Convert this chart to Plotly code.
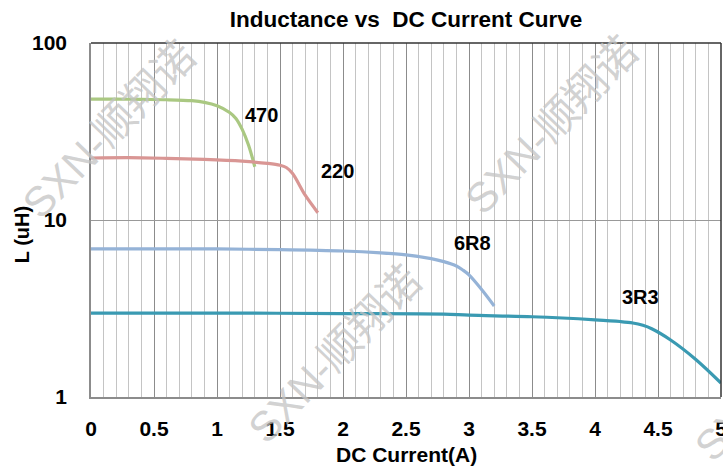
import math
import plotly.graph_objects as go

# ---- data ----
x_470 = [0, 0.2, 0.4, 0.6, 0.8, 0.9, 1.0, 1.1, 1.15, 1.2, 1.25, 1.3]
L_470 = [48.2, 48.2, 48.0, 47.8, 47.2, 46.2, 44.2, 40.5, 37.5, 32.5, 26.5, 20.0]

x_220 = [0, 0.3, 0.6, 0.9, 1.2, 1.4, 1.5, 1.55, 1.6, 1.7, 1.8]
L_220 = [22.4, 22.5, 22.3, 22.0, 21.5, 20.9, 20.4, 19.8, 18.3, 13.8, 11.0]

x_6r8 = [0, 0.5, 1.0, 1.5, 2.0, 2.3, 2.5, 2.7, 2.8, 2.9, 2.95, 3.0, 3.1, 3.2]
L_6r8 = [6.86, 6.86, 6.86, 6.8, 6.68, 6.52, 6.35, 6.05, 5.82, 5.5, 5.22, 4.9, 4.05, 3.27]

x_3r3 = [0, 1.0, 2.0, 2.8, 3.0, 3.5, 4.0, 4.2, 4.3, 4.38, 4.45, 4.6, 4.8, 5.0]
L_3r3 = [2.98, 2.98, 2.96, 2.94, 2.9, 2.84, 2.73, 2.67, 2.62, 2.54, 2.43, 2.1, 1.63, 1.2]

series_names = ["470", "220", "6R8", "3R3"]
series_x = [x_470, x_220, x_6r8, x_3r3]
series_y = [L_470, L_220, L_6r8, L_3r3]
series_colors = ["#AAC882", "#D99694", "#95B3D7", "#3A9AB2"]

label_x = [1.35, 1.96, 3.03, 4.36]
label_y = [39.2, 18.9, 7.41, 3.67]

x_ticks = [0, 0.5, 1, 1.5, 2, 2.5, 3, 3.5, 4, 4.5, 5]
x_ticktext = ["0", "0.5", "1", "1.5", "2", "2.5", "3", "3.5", "4", "4.5", "5"]
y_ticks = [1, 10, 100]
y_ticktext = ["1", "10", "100"]

title_text = "Inductance vs\u00a0 DC Current Curve"
x_title = "DC Current(A)"
y_title = "L (uH)"
watermark = "SXN-顺翔诺"
# watermark centres in paper coordinates
wm_x = [0.029, 0.73, 0.387, 1.095]
wm_y = [0.755, 0.768, 0.119, 0.07]

FONT = "Arial, Liberation Sans, sans-serif"

fig = go.Figure()
for name, xs, ys, col in zip(series_names, series_x, series_y, series_colors):
    fig.add_trace(go.Scatter(
        x=xs, y=ys, mode="lines", name=name,
        line=dict(color=col, width=3.2, shape="spline", smoothing=0.9),
        showlegend=False, hoverinfo="skip",
    ))

annotations = []
for name, lx, ly in zip(series_names, label_x, label_y):
    annotations.append(dict(
        x=lx, y=math.log10(ly), xref="x", yref="y", text="<b>%s</b>" % name,
        showarrow=False, xanchor="center", yanchor="middle",
        font=dict(family=FONT, size=20, color="black"),
    ))

for wx, wy in zip(wm_x, wm_y):
    annotations.append(dict(
        x=wx, y=wy, xref="paper", yref="paper", text=watermark,
        showarrow=False, textangle=-46, xanchor="center", yanchor="middle",
        font=dict(family="Liberation Sans, Noto Sans CJK SC, sans-serif", size=42,
                  color="rgba(195,195,195,0.75)"),
    ))

annotations.append(dict(
    x=-0.109, y=0.458, xref="paper", yref="paper", text="<b>%s</b>" % y_title,
    showarrow=False, textangle=-90, xanchor="center", yanchor="middle",
    font=dict(family=FONT, size=20, color="black"),
))
annotations.append(dict(
    x=0.5, y=-0.162, xref="paper", yref="paper", text="<b>%s</b>" % x_title,
    showarrow=False, xanchor="center", yanchor="middle",
    font=dict(family=FONT, size=21, color="black"),
))

fig.update_layout(
    width=723, height=466,
    margin=dict(l=91, r=2, t=43, b=69),
    paper_bgcolor="white", plot_bgcolor="white",
    title=dict(text="<b>%s</b>" % title_text, x=0.5, xref="paper",
               y=1 - 19 / 466, yref="container", yanchor="middle", xanchor="center",
               font=dict(family=FONT, size=22.5, color="black")),
    annotations=annotations,
    xaxis=dict(
        range=[0, 5], tickvals=x_ticks, ticktext=["<b>%s</b>" % t for t in x_ticktext],
        showgrid=True, gridcolor="#8C8C8C", gridwidth=1,
        minor=dict(dtick=0.1, showgrid=True, gridcolor="#C4C4C4", gridwidth=1),
        showline=True, linecolor="#8C8C8C", linewidth=1.5,
        ticks="", ticklabelstandoff=12, automargin=False,
        ticklabeloverflow="allow",
        tickfont=dict(family=FONT, size=21, color="black"), zeroline=False,
    ),
    yaxis=dict(
        type="log", range=[0, 2], tickvals=y_ticks,
        ticktext=["<b>%s</b>" % t for t in y_ticktext],
        showgrid=True, gridcolor="#999999", gridwidth=1,
        showline=True, linecolor="#8C8C8C", linewidth=1.5,
        ticks="", ticklabelstandoff=18, automargin=False,
        tickfont=dict(family=FONT, size=21, color="black"), zeroline=False,
    ),
    shapes=[
        dict(type="line", xref="paper", yref="paper", x0=0, x1=1, y0=1, y1=1,
             line=dict(color="#333333", width=1.5)),
        dict(type="line", xref="paper", yref="paper", x0=1, x1=1, y0=0, y1=1,
             line=dict(color="#333333", width=1.5)),
    ],
)

fig.write_html(
    "out.html",
    config={"displayModeBar": False},
    post_script="document.body.style.margin='0';document.body.style.padding='0';"
                "document.body.style.overflow='hidden';",
)
